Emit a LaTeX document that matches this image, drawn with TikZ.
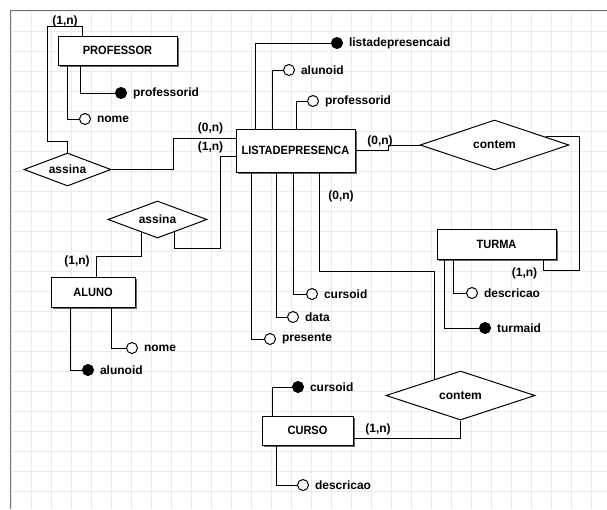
\documentclass[tikz,border=0pt]{standalone}
\usepackage{fontspec}
\setmainfont{Liberation Sans}
\newfontfamily\entfont[FakeStretch=0.92]{Liberation Sans}
\usetikzlibrary{positioning,shapes.geometric,shadows}

\begin{document}
\begin{tikzpicture}[x=1pt,y=-1pt,line width=1pt,
    font=\fontsize{12}{14}\selectfont\bfseries,
    entidade/.style ={rectangle, draw, fill=white, inner sep=0pt,
      font=\fontsize{12}{14}\selectfont\entfont\bfseries,
      drop shadow={shadow xshift=2pt, shadow yshift=-2pt, fill=black!60, opacity=1}},
    relacao/.style ={diamond, draw, fill=white, inner sep=0pt, aspect=3},
    atributo/.style ={circle, draw, fill=white, minimum size=11pt, inner sep=0pt},
    chave/.style ={atributo, fill=black},
    rotulo/.style ={inner sep=0pt},
    card/.style ={inner sep=0pt}]
   \useasboundingbox (0,0) rectangle (607,509);
   \fill[white] (0,0) rectangle (607,509);
   \foreach \x in {11.5,31.5,...,591.5}
      \draw[black!8] (\x,10) -- (\x,509);
   \foreach \y in {11.5,31.5,...,491.5}
      \draw[black!8] (10,\y) -- (607,\y);
   \draw[black!55] (10,509) -- (10,10) -- (607,10);

   \node[entidade, minimum width=119pt, minimum height=29pt] (prof) at (117.5,50.5) {PROFESSOR};
   \node[entidade, minimum width=119pt, minimum height=43pt] (lista) at (295.5,150.5) {LISTADEPRESENCA};
   \node[entidade, minimum width=84pt, minimum height=30pt] (aluno) at (93,292) {ALUNO};
   \node[entidade, minimum width=119pt, minimum height=30pt] (turma) at (496.5,244) {TURMA};
   \node[entidade, minimum width=91pt, minimum height=29pt] (curso) at (307.5,430.5) {CURSO};

   \node[relacao, minimum width=87pt, minimum height=33pt] (assina1) at (67.5,169.5) {assina};
   \node[relacao, minimum width=99pt, minimum height=37pt] (assina2) at (157.5,219.5) {assina};
   \node[relacao, minimum width=149pt, minimum height=50pt] (contem1) at (494.5,145) {contem};
   \node[relacao, minimum width=149pt, minimum height=49pt] (contem2) at (460.5,395.5) {contem};

   \node[chave] (profid) at (121,93) {};
   \node[rotulo, right=5.5pt of profid] (profidt) {professorid};
   \node[atributo] (profnome) at (85,119) {};
   \node[rotulo, right=5.5pt of profnome] (profnomet) {nome};

   \node[chave] (listaid) at (337,43) {};
   \node[rotulo, right=5.5pt of listaid] (listaidt) {listadepresencaid};
   \node[atributo] (listaaluno) at (289,70) {};
   \node[rotulo, right=5.5pt of listaaluno] (listaalunot) {alunoid};
   \node[atributo] (listaprof) at (313,101) {};
   \node[rotulo, right=5.5pt of listaprof] (listaproft) {professorid};
   \node[atributo] (listacurso) at (312,294) {};
   \node[rotulo, right=5.5pt of listacurso] (listacursot) {cursoid};
   \node[atributo] (listadata) at (293,317) {};
   \node[rotulo, right=5.5pt of listadata] (listadatat) {data};
   \node[atributo] (listapres) at (270,339) {};
   \node[rotulo, right=5.5pt of listapres] (listapreset) {presente};

   \node[atributo] (alunonome) at (132,348) {};
   \node[rotulo, right=5.5pt of alunonome] (alunonomet) {nome};
   \node[chave] (alunoid) at (88,370) {};
   \node[rotulo, right=5.5pt of alunoid] (alunoidt) {alunoid};

   \node[atributo] (turmadesc) at (472,293) {};
   \node[rotulo, right=5.5pt of turmadesc] (turmadesct) {descricao};
   \node[chave] (turmaid) at (485,328) {};
   \node[rotulo, right=5.5pt of turmaid] (turmaidt) {turmaid};

   \node[chave] (cursoid) at (298,387) {};
   \node[rotulo, right=5.5pt of cursoid] (cursoidt) {cursoid};
   \node[atributo] (cursodesc) at (303,485) {};
   \node[rotulo, right=5.5pt of cursodesc] (cursodesct) {descricao};

   \node[card] (cardprof) at (65,21) {(1,n)};
   \node[card] (cardlista1) at (210.5,128) {(0,n)};
   \node[card] (cardlista2) at (210.5,147) {(1,n)};
   \node[card] (cardaluno) at (77,261) {(1,n)};
   \node[card] (cardlista3) at (380,141) {(0,n)};
   \node[card] (cardlista4) at (341,196) {(0,n)};
   \node[card] (cardturma) at (524.5,273) {(1,n)};
   \node[card] (cardcurso) at (378,429) {(1,n)};

   \draw ([xshift=23pt]prof.south west) |- (profid);
   \draw ([xshift=10pt]prof.south west) |- (profnome);
   \draw ([xshift=20pt]lista.north west) |- (listaid);
   \draw ([xshift=37pt]lista.north west) |- (listaaluno);
   \draw ([xshift=61pt]lista.north west) |- (listaprof);
   \draw ([xshift=16pt]lista.south west) |- (listapres);
   \draw ([xshift=41pt]lista.south west) |- (listadata);
   \draw ([xshift=58pt]lista.south west) |- (listacurso);
   \draw ([xshift=20pt]aluno.south west) |- (alunoid);
   \draw ([xshift=61pt]aluno.south west) |- (alunonome);
   \draw ([xshift=8pt]turma.south west) |- (turmaid);
   \draw ([xshift=17pt]turma.south west) |- (turmadesc);
   \draw ([xshift=11pt]curso.north west) |- (cursoid);
   \draw ([xshift=15pt]curso.south west) |- (cursodesc);

   \draw ([xshift=25pt]prof.north west) -- ++(0,-9) -- ++(-35,0) -- ++(0,115) -| (assina1.north);
   \draw (assina1.east) -- ++(62,0) |- ([yshift=12.5pt]lista.west);
   \draw ([yshift=-5.5pt]lista.west) -- ++(-15,0) |- ([yshift=-16pt]assina2.-37) -- (assina2.-37);
   \draw (assina2.-141) |- ([xshift=3pt,yshift=20pt]aluno.north) -- ([xshift=3pt]aluno.north);
   \draw (lista.east) -- ++(33,0) |- (contem1.west);
   \draw (contem1.9) -- ++(34,0) |- ([xshift=46.5pt,yshift=-11pt]turma.south) -- ([xshift=46.5pt]turma.south);
   \draw ([xshift=23.5pt]lista.south) |- ([yshift=108pt]contem2.148) -- (contem2.148);
   \draw (contem2.south) |- ([yshift=-7.5pt]curso.east);
\end{tikzpicture}
\end{document}
